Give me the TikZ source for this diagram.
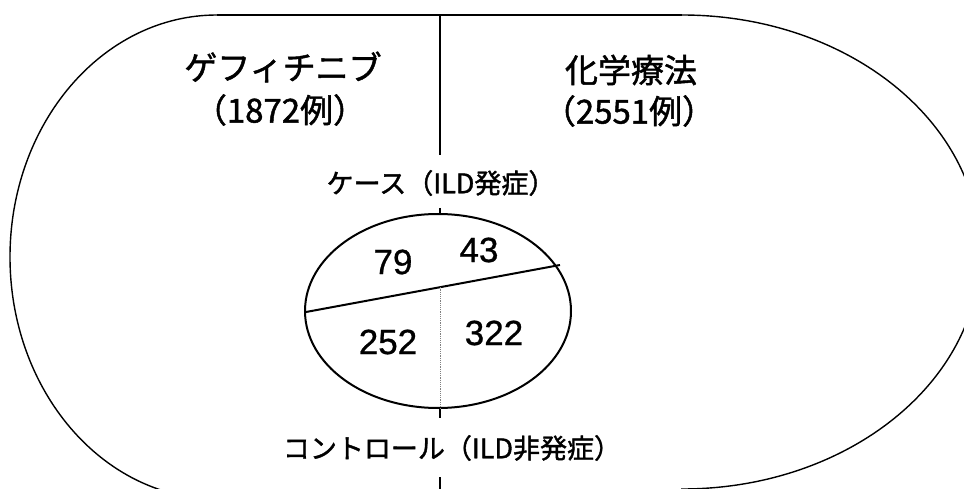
\documentclass[tikz,border=0pt]{standalone}
\usepackage{fontspec}
\newfontfamily\jpfont{Noto Sans CJK JP}[FakeBold=1.4]
\newfontfamily\numfont{Liberation Sans}[FakeBold=0.8]
\usetikzlibrary{calc,shapes.geometric}
\tikzset{
  outline/.style={line width=1.4pt, black},
  cell/.style={draw, line width=2pt, ellipse, minimum width=266pt, minimum height=194pt, inner sep=0pt},
  title/.style={inner sep=0pt, font=\jpfont\fontsize{33}{37}\selectfont},
  grouplabel/.style={inner sep=0pt, font=\jpfont\fontsize{27}{30}\selectfont},
  count/.style={inner sep=0pt, font=\numfont\fontsize{35}{40}\selectfont},
  axis/.style={line width=1.6pt, black},
  split/.style={line width=2pt, black},
  dotline/.style={line width=1.2pt, gray, densely dotted}
}
\begin{document}
\begin{tikzpicture}[x=1pt,y=-1pt]
\useasboundingbox (0,0) rectangle (964,489);
\fill[white] (0,0) rectangle (964,489);
% outer boundary
\begin{scope}
  \clip (0,0) rectangle (218,489);
  \draw[outline] (217,257) ellipse [x radius=207, y radius=242];
\end{scope}
\begin{scope}
  \clip (681,0) rectangle (964,489);
  \draw[outline] (682,252) ellipse [x radius=298, y radius=237];
\end{scope}
\coordinate (tl) at (217,15);
\coordinate (tr) at (682,15);
\draw[outline] (tl) -- (tr);

% titles
\node[title] (gef) at (283,67) {ゲフィチニブ};
\node[title] (gefn) at (280,110) {（1872例）};
\node[title] (chem) at (631,70) {化学療法};
\node[title] (chemn) at (629,111) {（2551例）};

% central axis
\coordinate (top) at (440,15);
\coordinate (topend) at (440,155);
\draw[axis] (top) -- (topend);

\node[grouplabel] (case) at (441,183) {ケース（ILD発症）};
\node[cell] (ell) at (438,311) {};
\coordinate (tickA) at (440,208);
\draw[axis] (tickA) -- (ell.north -| tickA);

\coordinate (dl) at (306,312);
\coordinate (dr) at (560,265);
\draw[split] (dl) -- (dr);
\coordinate (mid) at ($(dl)!0.528!(dr)$);
\draw[dotline] (mid) -- (mid |- ell.south);

\coordinate (tickB) at (440,418);
\draw[axis] (ell.south -| tickB) -- (tickB);

\node[grouplabel] (ctrl) at (452,448) {コントロール（ILD非発症）};
\coordinate (botA) at (440,477);
\coordinate (botB) at (440,489);
\draw[axis] (botA) -- (botB);

% counts
\node[count] (n79) at (393,262) {79};
\node[count] (n43) at (479,250) {43};
\node[count] (n252) at (388,342) {252};
\node[count] (n322) at (494,333) {322};
\end{tikzpicture}
\end{document}
